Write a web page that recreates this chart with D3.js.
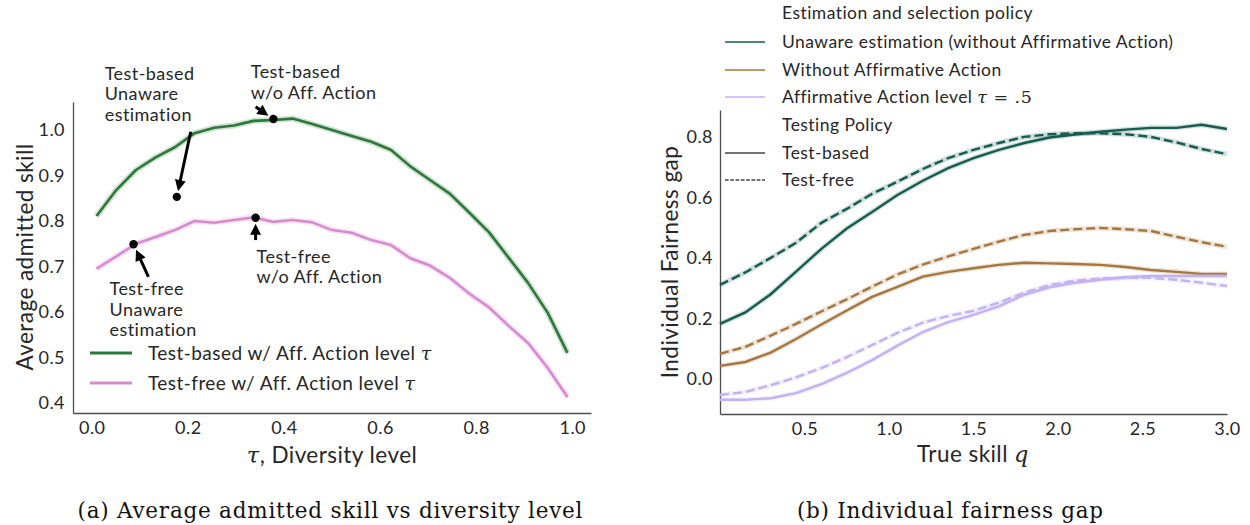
<!DOCTYPE html>
<html>
<head>
<meta charset="utf-8">
<script src="https://cdn.jsdelivr.net/npm/d3@7"></script>
<style>
  body { margin: 0; background: #fff; }
  svg text { font-family: Lato, "Open Sans", sans-serif; fill: #262626; letter-spacing: 0.45px; }
  .axis .domain { stroke: #4d4d4d; stroke-width: 1.3; }
  .axis text { font-size: 18px; fill: #262626; }
  svg text.caption { font-family: "DejaVu Serif", serif; font-size: 21.5px; fill: #111; letter-spacing: 0; }
</style>
</head>
<body>
<div id="chart"></div>
<script>
// ---- panel (a): average admitted skill vs diversity level ----
let tau = [0.01, 0.051, 0.092, 0.133, 0.173, 0.214, 0.255, 0.296, 0.337, 0.378, 0.418, 0.459, 0.5,
    0.541, 0.582, 0.623, 0.663, 0.704, 0.745, 0.786, 0.827, 0.867, 0.908, 0.949, 0.99];
let testBasedAA = [0.811, 0.868, 0.912, 0.940, 0.962, 0.993, 1.005, 1.010, 1.020, 1.022, 1.025, 1.013, 1.000,
    0.987, 0.974, 0.956, 0.920, 0.890, 0.860, 0.818, 0.775, 0.720, 0.664, 0.598, 0.510];
let testFreeAA = [0.695, 0.722, 0.750, 0.765, 0.780, 0.800, 0.796, 0.802, 0.808, 0.798, 0.802, 0.797, 0.780,
    0.774, 0.758, 0.747, 0.718, 0.702, 0.675, 0.640, 0.610, 0.570, 0.532, 0.477, 0.413];
let leftYTicks = [0.4, 0.5, 0.6, 0.7, 0.8, 0.9, 1.0];
let leftXTicks = [0.0, 0.2, 0.4, 0.6, 0.8, 1.0];

// annotations: dot (x,y), arrow tail (x,y), text position and lines
let annDots = [[0.177, 0.853], [0.378, 1.024], [0.341, 0.807], [0.087, 0.749]];
let annTails = [[0.206, 0.996], [0.341, 1.051], [0.341, 0.758], [0.118, 0.677]];
let annTextPos = [[0.027, 1.110], [0.331, 1.114], [0.343, 0.708], [0.037, 0.637]];
let annLines = [["Test-based", "Unaware", "estimation"], ["Test-based", "w/o Aff. Action"],
    ["Test-free", "w/o Aff. Action"], ["Test-free", "Unaware", "estimation"]];

// ---- panel (b): individual fairness gap ----
let q = [0, 0.15, 0.3, 0.45, 0.6, 0.75, 0.9, 1.05, 1.2, 1.35, 1.5, 1.65, 1.8, 1.95, 2.1, 2.25, 2.4, 2.55, 2.7, 2.85, 3.0];
let unawareBased = [0.182, 0.220, 0.280, 0.355, 0.430, 0.497, 0.552, 0.608, 0.655, 0.697, 0.730, 0.757, 0.780,
    0.798, 0.808, 0.817, 0.824, 0.830, 0.830, 0.840, 0.826];
let unawareFree = [0.311, 0.352, 0.400, 0.450, 0.516, 0.562, 0.612, 0.652, 0.694, 0.730, 0.757, 0.780, 0.800,
    0.809, 0.812, 0.812, 0.809, 0.800, 0.782, 0.760, 0.743];
let noAABased = [0.043, 0.056, 0.087, 0.132, 0.180, 0.226, 0.271, 0.304, 0.338, 0.354, 0.366, 0.377, 0.384,
    0.382, 0.380, 0.377, 0.370, 0.360, 0.354, 0.347, 0.347];
let noAAFree = [0.083, 0.106, 0.143, 0.182, 0.223, 0.263, 0.305, 0.345, 0.378, 0.405, 0.430, 0.454, 0.476,
    0.489, 0.495, 0.499, 0.495, 0.489, 0.470, 0.452, 0.437];
let aaBased = [-0.069, -0.069, -0.064, -0.047, -0.017, 0.020, 0.062, 0.110, 0.155, 0.188, 0.212, 0.240, 0.278,
    0.303, 0.318, 0.328, 0.336, 0.340, 0.340, 0.340, 0.340];
let aaFree = [-0.053, -0.043, -0.021, 0.005, 0.036, 0.072, 0.112, 0.152, 0.186, 0.208, 0.225, 0.252, 0.285,
    0.310, 0.325, 0.332, 0.334, 0.334, 0.328, 0.318, 0.307];
let rightYTicks = [0.0, 0.2, 0.4, 0.6, 0.8];
let rightXTicks = [0.5, 1.0, 1.5, 2.0, 2.5, 3.0];
let policyNames = ["Unaware estimation (without Affirmative Action)", "Without Affirmative Action",
    "Affirmative Action level τ = .5"];

let green = "#2b7838", pink = "#d88ad0";
let teal = "#165c4e", brown = "#a6763f", lavender = "#c3b2f2";

let svg = d3.select("#chart").append("svg")
    .attr("width", 1250)
    .attr("height", 525);

// ================= panel (a) =================
let xA = d3.scaleLinear().domain([-0.039, 1.039]).range([73, 591]);
let yA = d3.scaleLinear().domain([0.378, 1.0615]).range([413, 102]);

let gA = svg.append("g");

gA.append("g")
    .attr("class", "axis")
    .attr("transform", "translate(73,0)")
    .call(d3.axisLeft(yA).tickValues(leftYTicks).tickFormat(d3.format(".1f")).tickSize(0).tickPadding(8).tickSizeOuter(0));
gA.append("g")
    .attr("class", "axis")
    .attr("transform", "translate(0,413)")
    .call(d3.axisBottom(xA).tickValues(leftXTicks).tickFormat(d3.format(".1f")).tickSize(0).tickPadding(8).tickSizeOuter(0));

let lineA = d3.line().x((d, i) => xA(tau[i])).y(d => yA(d));

[[testBasedAA, green], [testFreeAA, pink]].forEach(([vals, col]) => {
    gA.append("path").attr("d", lineA(vals))
        .attr("fill", "none").attr("stroke", col).attr("stroke-opacity", 0.22).attr("stroke-width", 6);
    gA.append("path").attr("d", lineA(vals))
        .attr("fill", "none").attr("stroke", col).attr("stroke-width", 2.6).attr("stroke-linejoin", "round");
});

// annotations with arrows
annDots.forEach((d, i) => {
    let px = xA(d[0]), py = yA(d[1]);
    let tx = xA(annTails[i][0]), ty = yA(annTails[i][1]);
    let dx = px - tx, dy = py - ty, len = Math.sqrt(dx * dx + dy * dy);
    let ux = dx / len, uy = dy / len;
    let tipX = px - ux * 6, tipY = py - uy * 6;
    let headLen = 11, headW = 5.5;
    let bx = tipX - ux * headLen, by = tipY - uy * headLen;
    if (len - 6 > headLen) {
        gA.append("line")
            .attr("x1", tx).attr("y1", ty).attr("x2", bx + ux * 2).attr("y2", by + uy * 2)
            .attr("stroke", "#000").attr("stroke-width", 3);
    }
    gA.append("polygon")
        .attr("points", [[tipX, tipY], [bx - uy * headW, by + ux * headW], [bx + uy * headW, by - ux * headW]].join(" "))
        .attr("fill", "#000");
    gA.append("circle").attr("cx", px).attr("cy", py).attr("r", 4.2).attr("fill", "#000");

    let t = gA.append("text")
        .attr("x", xA(annTextPos[i][0]))
        .attr("y", yA(annTextPos[i][1]))
        .attr("font-size", 18);
    annLines[i].forEach((s, k) => {
        t.append("tspan").attr("x", xA(annTextPos[i][0])).attr("dy", k === 0 ? 0 : 20.5).text(s);
    });
});

// legend (a)
let legA = [["Test-based w/ Aff. Action level ", green], ["Test-free w/ Aff. Action level ", pink]];
legA.forEach(([name, col], i) => {
    let y = 353 + i * 30;
    gA.append("line").attr("x1", 90).attr("x2", 132).attr("y1", y).attr("y2", y)
        .attr("stroke", col).attr("stroke-width", 3);
    let t = gA.append("text").attr("x", 148).attr("y", y + 6.5).attr("font-size", 19).text(name);
    t.append("tspan").attr("font-family", "'DejaVu Serif', serif").attr("font-style", "italic").text("τ");
});

// axis labels (a)
gA.append("text")
    .attr("transform", "translate(33,257) rotate(-90)")
    .attr("text-anchor", "middle").attr("font-size", 22.5)
    .text("Average admitted skill");
let xlabA = gA.append("text").attr("x", 332).attr("y", 463).attr("text-anchor", "middle").attr("font-size", 22.5);
xlabA.append("tspan").attr("font-family", "'DejaVu Serif', serif").attr("font-style", "italic").text("τ");
xlabA.append("tspan").text(", Diversity level");

svg.append("text").attr("class", "caption")
    .attr("x", 330).attr("y", 518).attr("text-anchor", "middle")
    .attr("textLength", 505).attr("lengthAdjust", "spacing")
    .text("(a) Average admitted skill vs diversity level");

// ================= panel (b) =================
let xB = d3.scaleLinear().domain([0, 3]).range([720, 1227]);
let yB = d3.scaleLinear().domain([-0.116, 0.889]).range([414, 110]);

let gB = svg.append("g");

gB.append("g")
    .attr("class", "axis")
    .attr("transform", "translate(720,0)")
    .call(d3.axisLeft(yB).tickValues(rightYTicks).tickFormat(d3.format(".1f")).tickSize(0).tickPadding(7).tickSizeOuter(0));
gB.append("g")
    .attr("class", "axis")
    .attr("transform", "translate(0,414)")
    .call(d3.axisBottom(xB).tickValues(rightXTicks).tickFormat(d3.format(".1f")).tickSize(0).tickPadding(8).tickSizeOuter(0));

let lineB = d3.line().x((d, i) => xB(q[i])).y(d => yB(d));

let seriesB = [
    [unawareBased, teal, false], [unawareFree, teal, true],
    [noAABased, brown, false], [noAAFree, brown, true],
    [aaBased, lavender, false], [aaFree, lavender, true]
];
seriesB.forEach(([vals, col, dashed]) => {
    gB.append("path").attr("d", lineB(vals))
        .attr("fill", "none").attr("stroke", col).attr("stroke-opacity", 0.2).attr("stroke-width", 5);
    gB.append("path").attr("d", lineB(vals))
        .attr("fill", "none").attr("stroke", col).attr("stroke-width", 2.4)
        .attr("stroke-dasharray", dashed ? "9,4" : null);
});

// legend (b)
let legRowsY = [13, 42, 70, 97, 125, 153, 180];
let legFont = 17.5;
gB.append("text").attr("x", 782).attr("y", legRowsY[0] + 6).attr("font-size", legFont).text("Estimation and selection policy");
[teal, brown, lavender].forEach((col, i) => {
    let y = legRowsY[i + 1];
    gB.append("line").attr("x1", 725).attr("x2", 765).attr("y1", y).attr("y2", y)
        .attr("stroke", col).attr("stroke-width", 1.6);
    let t = gB.append("text").attr("x", 782).attr("y", y + 6).attr("font-size", legFont);
    if (i < 2) {
        t.text(policyNames[i]);
    } else {
        t.text("Affirmative Action level ");
        t.append("tspan").attr("font-family", "'DejaVu Serif', serif").attr("font-style", "italic").text("τ");
        t.append("tspan").attr("font-family", "'DejaVu Serif', serif").text(" = .5");
    }
});
gB.append("text").attr("x", 782).attr("y", legRowsY[4] + 6).attr("font-size", legFont).text("Testing Policy");
[["Test-based", null], ["Test-free", "3.7,1.6"]].forEach(([name, dash], i) => {
    let y = legRowsY[5 + i];
    gB.append("line").attr("x1", 725).attr("x2", 765).attr("y1", y).attr("y2", y)
        .attr("stroke", "#444").attr("stroke-width", 1.3).attr("stroke-dasharray", dash);
    gB.append("text").attr("x", 782).attr("y", y + 6).attr("font-size", legFont).text(name);
});

// axis labels (b)
gB.append("text")
    .attr("transform", "translate(678,262) rotate(-90)")
    .attr("text-anchor", "middle").attr("font-size", 22.5)
    .text("Individual Fairness gap");
let xlabB = gB.append("text").attr("x", 973).attr("y", 462).attr("text-anchor", "middle").attr("font-size", 22.5);
xlabB.append("tspan").text("True skill ");
xlabB.append("tspan").attr("font-family", "'DejaVu Serif', serif").attr("font-style", "italic").text("q");

svg.append("text").attr("class", "caption")
    .attr("x", 950).attr("y", 518).attr("text-anchor", "middle")
    .attr("textLength", 306).attr("lengthAdjust", "spacing")
    .text("(b) Individual fairness gap");
</script>
</body>
</html>
